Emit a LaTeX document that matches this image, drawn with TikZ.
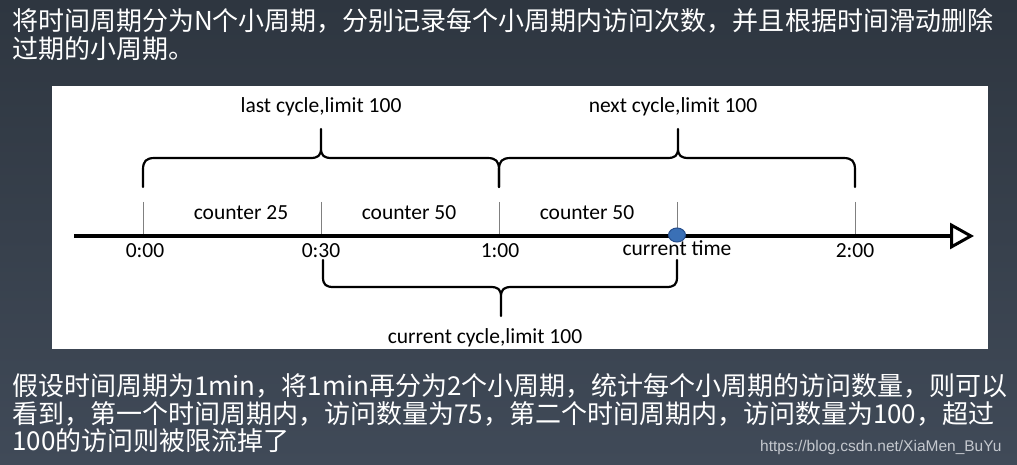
\documentclass[tikz,border=0pt]{standalone}
\usepackage{fontspec}
\setmainfont{Carlito}
\newfontfamily\cjkfont{Noto Sans CJK SC}
\newfontfamily\urlfont{Liberation Sans}
\usetikzlibrary{arrows.meta}
\definecolor{slatetop}{RGB}{46,54,64}
\definecolor{slatebot}{RGB}{64,74,88}
\definecolor{dotblue}{RGB}{58,112,182}
\definecolor{dotedge}{RGB}{38,78,140}
\definecolor{tickgray}{RGB}{128,128,128}
\definecolor{markgray}{RGB}{196,200,206}
\begin{document}
\begin{tikzpicture}[x=1pt, y=-1pt,
    lbl/.style={font=\fontsize{21.5}{24}\selectfont, anchor=base, inner sep=0pt},
    note/.style={font=\cjkfont\fontsize{26}{28}\selectfont, text=white, anchor=base west, inner sep=0pt},
    brace/.style={line width=2.2pt, line cap=round, line join=round},
    tick/.style={tickgray, line width=0.9pt},
    axis/.style={line width=3.8pt, -{Triangle[open, length=24pt, width=26pt, line width=3pt]}}]
    \shade[top color=slatetop, bottom color=slatebot] (0,0) rectangle (1017,465);
    \fill[white] (52,86) rectangle (988,349);

    % text above and below the diagram
    \node[note] (title1) at (12,31) {将时间周期分为N个小周期，分别记录每个小周期内访问次数，并且根据时间滑动删除};
    \node[note] (title2) at (12,59) {过期的小周期。};
    \node[note] (text1) at (12,395) {假设时间周期为1min，将1min再分为2个小周期，统计每个小周期的访问数量，则可以};
    \node[note] (text2) at (12,423) {看到，第一个时间周期内，访问数量为75，第二个时间周期内，访问数量为100，超过};
    \node[note] (text3) at (12,450) {100的访问则被限流掉了};
    \node[anchor=base west, inner sep=0pt, text=markgray, font=\urlfont\fontsize{15.5}{18}\selectfont] (mark) at (760,451) {https://blog.csdn.net/XiaMen\_BuYu};

    % time axis
    \coordinate (start) at (74,236);
    \coordinate (end) at (974,236);
    \foreach \x in {143,321,499,677,855}
        \draw[tick] (\x,202) -- (\x,236);
    \draw[axis] (start) -- (end);
    \draw[dotedge, fill=dotblue, line width=1pt] (677,235) ellipse (8.5 and 7);

    \node[lbl] (t0) at (145,257) {0:00};
    \node[lbl] (t1) at (321,257) {0:30};
    \node[lbl] (t2) at (500,257) {1:00};
    \node[lbl] (now) at (677,255) {current time};
    \node[lbl] (t4) at (855,257) {2:00};

    \node[lbl] (c1) at (241,219) {counter 25};
    \node[lbl] (c2) at (409,219) {counter 50};
    \node[lbl] (c3) at (587,219) {counter 50};

    % braces
    \draw[brace] (143,187) -- (143,170) .. controls (143,161) and (146,158) .. (155,158)
        -- (310,158) .. controls (318,158) and (321,156) .. (321,148) -- (321,129)
        -- (321,148) .. controls (321,156) and (324,158) .. (332,158)
        -- (487,158) .. controls (496,158) and (499,161) .. (499,170) -- (499,187);
    \draw[brace] (499,187) -- (499,170) .. controls (499,161) and (502,158) .. (511,158)
        -- (667,158) .. controls (675,158) and (678,156) .. (678,148) -- (678,129)
        -- (678,148) .. controls (678,156) and (681,158) .. (689,158)
        -- (843,158) .. controls (852,158) and (855,161) .. (855,170) -- (855,187);
    \draw[brace] (323,260) -- (323,277) .. controls (323,285) and (326,287) .. (334,287)
        -- (490,287) .. controls (498,287) and (501,289) .. (501,297) -- (501,316)
        -- (501,297) .. controls (501,289) and (504,287) .. (512,287)
        -- (666,287) .. controls (674,287) and (677,285) .. (677,277) -- (677,260);

    \node[lbl] (last) at (321,113) {last cycle,limit 100};
    \node[lbl] (next) at (673,113) {next cycle,limit 100};
    \node[lbl] (cur) at (485,343) {current cycle,limit 100};
\end{tikzpicture}
\end{document}
